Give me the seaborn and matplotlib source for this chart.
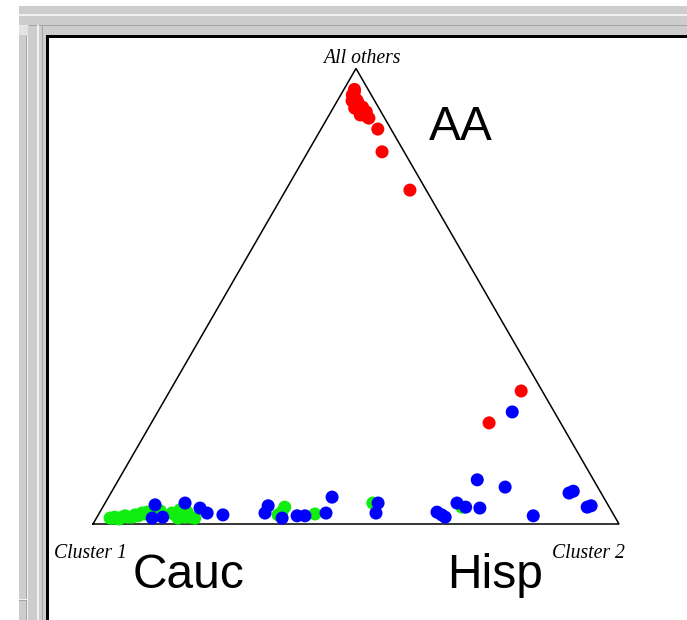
import numpy as np
import pandas as pd
import matplotlib
matplotlib.use("Agg")
import matplotlib.pyplot as plt
from matplotlib.patches import Rectangle
import seaborn as sns

# ---- data: ternary membership (Cluster 2 share, "All others" share) ----
aa_cluster2 = [0.020, 0.022, 0.022, 0.028, 0.029, 0.037, 0.041, 0.042, 0.055, 0.059, 0.059,
               0.067, 0.074, 0.079, 0.108, 0.141, 0.236, 0.668, 0.642]
aa_others   = [0.954, 0.950, 0.942, 0.929, 0.937, 0.930, 0.913, 0.924, 0.915, 0.905, 0.898,
               0.905, 0.894, 0.891, 0.867, 0.817, 0.733, 0.292, 0.222]

cauc_cluster2 = [0.026, 0.032, 0.034, 0.044, 0.048, 0.052, 0.059, 0.067, 0.070, 0.077, 0.081,
                 0.088, 0.090, 0.099, 0.106, 0.113, 0.138, 0.146, 0.150, 0.155, 0.166, 0.167,
                 0.177, 0.187, 0.342, 0.346, 0.346, 0.411, 0.509, 0.683]
cauc_others   = [0.013, 0.013, 0.015, 0.011, 0.015, 0.018, 0.015, 0.015, 0.020, 0.018, 0.024,
                 0.022, 0.026, 0.026, 0.031, 0.029, 0.024, 0.020, 0.031, 0.013, 0.026, 0.015,
                 0.015, 0.013, 0.020, 0.026, 0.037, 0.022, 0.046, 0.037]

hisp_cluster2 = [0.097, 0.125, 0.106, 0.152, 0.186, 0.205, 0.237, 0.313, 0.315, 0.353, 0.379,
                 0.394, 0.431, 0.425, 0.519, 0.526, 0.641, 0.653, 0.662, 0.669, 0.690, 0.718,
                 0.682, 0.743, 0.828, 0.871, 0.877, 0.921, 0.927, 0.674]
hisp_others   = [0.042, 0.015, 0.013, 0.046, 0.035, 0.024, 0.020, 0.040, 0.024, 0.013, 0.018,
                 0.018, 0.024, 0.059, 0.046, 0.024, 0.026, 0.020, 0.015, 0.046, 0.037, 0.035,
                 0.097, 0.081, 0.018, 0.068, 0.072, 0.037, 0.040, 0.246]

groups = ["Cauc", "Hisp", "AA"]
colors = {"AA": "#ff0000", "Cauc": "#10ee10", "Hisp": "#0000ff"}
corner_labels = ["Cluster 1", "Cluster 2", "All others"]

H = np.sqrt(3) / 2
frames = []
for g, c2, oth in [("Cauc", cauc_cluster2, cauc_others),
                   ("Hisp", hisp_cluster2, hisp_others),
                   ("AA", aa_cluster2, aa_others)]:
    c2 = np.asarray(c2); oth = np.asarray(oth)
    frames.append(pd.DataFrame({"x": c2 + oth / 2, "y": oth * H, "group": g}))
df = pd.concat(frames, ignore_index=True)

# ---- figure ----
W, Hpx = 687, 620
fig = plt.figure(figsize=(W / 100, Hpx / 100), dpi=100)
fig.patch.set_facecolor("white")

bg = fig.add_axes([0, 0, 1, 1])
bg.set_xlim(0, W); bg.set_ylim(Hpx, 0); bg.axis("off")

gray, dark, light = "#cdcdcd", "#a4a4a4", "#f2f2f2"
def rect(x, y, w, h, c):
    bg.add_patch(Rectangle((x, y), w, h, color=c, lw=0))
rect(19, 6, W - 19, 30, gray)          # top band
rect(19, 6, 27, Hpx - 6, gray)         # left band
rect(19, 14, W - 19, 2, light)
rect(29, 25, W - 29, 1, dark)
rect(19, 25, 9, 10, "#e4e4e4")
rect(26, 36, 1, Hpx - 36, dark)
rect(27, 36, 1, Hpx - 36, light)
rect(37, 25, 2, Hpx - 25, light)
rect(42, 26, 1, Hpx - 26, dark)
rect(19, 599, 8, 1, light)
rect(19, 600, 8, 1, dark)
rect(46, 35, W - 46, 3, "black")
rect(46, 35, 3, Hpx - 35, "black")

# corner labels
serif = dict(family="Liberation Serif", style="italic", fontsize=14.2, color="black")
bg.text(362, 63, corner_labels[2], ha="center", va="baseline", **serif)
bg.text(54, 558, corner_labels[0], ha="left", va="baseline", **serif)
bg.text(552, 558, corner_labels[1], ha="left", va="baseline", **serif)

# group labels
big = dict(family="Liberation Sans", fontsize=34.5, color="black")
bg.text(461, 140, "AA", ha="center", va="baseline", **big)
bg.text(133, 588, "Cauc", ha="left", va="baseline", **big)
bg.text(447, 588, "Hisp", ha="left", va="baseline", **big)

# triangle axes
x0, x1, ybase = 93, 619, 524
tw = x1 - x0
th = tw * H
ax = fig.add_axes([x0 / W, (Hpx - ybase) / Hpx, tw / W, th / Hpx])
ax.patch.set_alpha(0)
ax.set_xlim(0, 1); ax.set_ylim(0, H); ax.axis("off")
ax.plot([0, 1, 0.5, 0], [0, 0, H, 0], color="black", lw=1.1, clip_on=False,
        solid_joinstyle="miter")

sns.scatterplot(data=df, x="x", y="y", hue="group", hue_order=groups,
                palette=colors, s=88, linewidth=0, legend=False, ax=ax,
                clip_on=False, zorder=3)
ax.set_xlim(0, 1); ax.set_ylim(0, H); ax.axis("off")

fig.savefig("out.png", dpi=100)
